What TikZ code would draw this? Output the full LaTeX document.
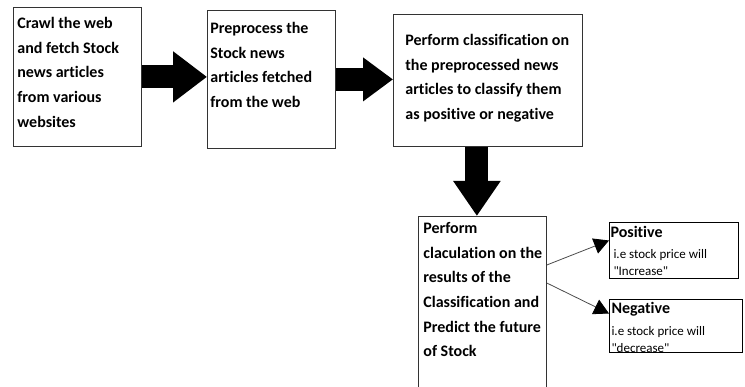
\documentclass[tikz,border=0pt]{standalone}
\usepackage{fontspec}
\setmainfont{Carlito}[Ligatures={NoCommon}]
\usetikzlibrary{arrows.meta}

\begin{document}
\begin{tikzpicture}[x=1pt, y=-1pt,
    stage/.style={draw=black!80, line width=0.8pt, anchor=north west, inner sep=0pt,
        font=\bfseries\fontsize{16}{24.7}\selectfont},
    result/.style={draw=black, line width=1pt, anchor=north west, inner sep=0pt},
    fat/.style 2 args={line width=23pt, -{Triangle[length=#1, width=#2]}},
    pointer/.style={draw=black!70, line width=0.8pt, -{Triangle[length=15pt, width=16pt, color=black]}}]
    \clip (0,0) rectangle (745,387);

    % Steps of the pipeline
    \node (crawl) [stage] at (13,7) {\parbox[c][139pt][t]{128pt}{\leftskip=4pt
        \rule{0pt}{21pt}Crawl the web\\ and fetch Stock\\ news articles\\ from various\\ websites}};
    \node (prep) [stage] at (207,10) {\parbox[c][138pt][t]{128pt}{\leftskip=3pt
        \rule{0pt}{23pt}Preprocess the\\ Stock news\\ articles fetched\\ from the web}};
    \node (cls) [stage] at (393,14) {\parbox[c][132pt][t]{189pt}{\leftskip=12pt
        \rule{0pt}{31pt}Perform classification on\\ the preprocessed news\\ articles to classify them\\ as positive or negative}};
    \node (calc) [stage] at (418,216) {\parbox[c][200pt][t]{128pt}{\leftskip=5pt
        \rule{0pt}{17pt}Perform\\ claculation on the\\ results of the\\ Classification and\\ Predict the future\\ of Stock}};

    % Outcomes
    \node (pos) [result] at (609,222) {\parbox[c][56pt][t]{129pt}{\leftskip=1pt
        \rule{0pt}{15pt}{\fontsize{16}{17}\selectfont\bfseries Positive}\\[4pt]
        \fontsize{13}{17}\selectfont\hspace*{3pt}i.e stock price will\\ \hspace*{3pt}\textquotedbl Increase\textquotedbl}};
    \node (neg) [result] at (609,299) {\parbox[c][53pt][t]{133pt}{\leftskip=2pt
        \rule{0pt}{14pt}{\fontsize{16}{17}\selectfont\bfseries Negative}\\[5pt]
        \fontsize{13}{17}\selectfont i.e stock price will\\ \textquotedbl decrease\textquotedbl}};

    % Edges
    \draw[fat={34pt}{49pt}] (crawl.east) -- (crawl.east -| prep.west);
    \draw[fat={30pt}{42pt}] (prep.east) -- (prep.east -| cls.west);
    \draw[fat={35pt}{45pt}] ([xshift=-11pt]cls.south) -- ([xshift=-11pt]cls.south |- calc.north);
    \draw[pointer] ([yshift=-49pt]calc.north east) -- ([yshift=10pt]pos.west);
    \draw[pointer] ([yshift=-67pt]calc.north east) -- ([yshift=12.5pt]neg.west);
\end{tikzpicture}
\end{document}
